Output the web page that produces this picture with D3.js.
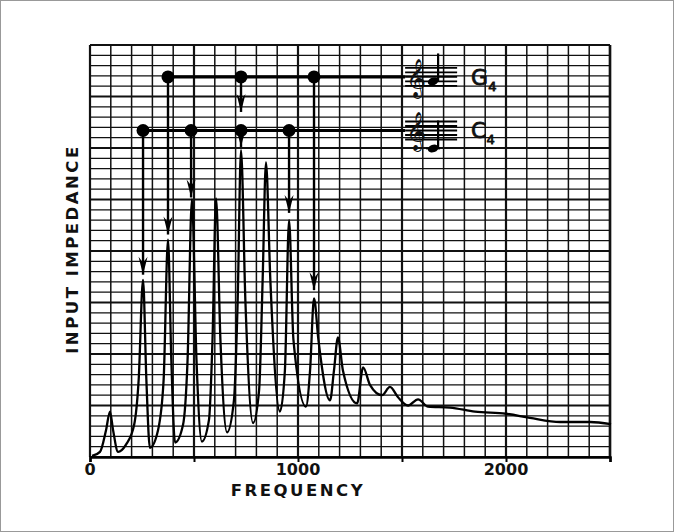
<!DOCTYPE html>
<html>
<head>
<meta charset="utf-8">
<script src="https://cdn.jsdelivr.net/npm/d3@7"></script>
<style>
  body { margin: 0; background: #fff; }
  svg { display: block; }
  text { font-family: "DejaVu Sans", sans-serif; fill: #111; }
</style>
</head>
<body>
<svg id="chart" width="674" height="532"></svg>
<script>
// impedance curve (Hz, grid units 0..40)
var freqs = [10, 48, 77, 96, 111, 135, 173, 212, 234, 255, 271, 288, 327, 354, 375, 391, 409,
  447, 469, 490, 512, 538, 572, 589, 606, 627, 659, 692, 710, 726, 747, 784, 813, 830, 846, 867,
  913, 937, 957, 978, 1038, 1058, 1077, 1098, 1154, 1173, 1192, 1216, 1284, 1313, 1346, 1404,
  1442, 1481, 1529, 1577, 1625, 1731, 1851, 2000, 2115, 2260, 2404, 2505];
var impedance = [0.1, 0.5, 2.6, 4.4, 2.6, 0.5, 1.2, 3.1, 7.5, 17.2, 7.5, 0.9, 2.6, 7.5, 21.1, 9.4, 1.4,
  3.1, 9.4, 25, 9.4, 1.5, 3.6, 11.4, 25.1, 11.4, 2.4, 5.5, 15.2, 29.8, 15.2, 3.3, 6.5, 17.2, 28.6, 17.2,
  4.4, 8.4, 23, 11.4, 4.9, 8.4, 15.4, 11.4, 5.5, 8.4, 11.6, 8.4, 5.2, 8.7, 7, 6,
  6.8, 5.8, 5, 5.6, 4.9, 4.8, 4.4, 4.2, 3.8, 3.4, 3.4, 3.2];

// note lines: dots (Hz) and where each arrow tip lands (grid units)
var g4Level = 36.9;
var g4Dots = [375, 726, 1077];
var g4Tips = [21.6, 33.5, 16.2];
var c4Level = 31.7;
var c4Dots = [255, 486, 726, 957];
var c4Tips = [17.7, 25.2, 30.1, 23.7];
var xTicks = [0, 1000, 2000];

var margin = {top: 45, right: 64, bottom: 75, left: 90};
var width = 674 - margin.left - margin.right;
var height = 532 - margin.top - margin.bottom;

var svg = d3.select("#chart");

// thin frame round the scan
svg.append("rect")
  .attr("x", 0.5).attr("y", 0.5)
  .attr("width", 673).attr("height", 531)
  .attr("fill", "none").attr("stroke", "#999");

var x = d3.scaleLinear().domain([0, 2500]).range([0, width]);
var y = d3.scaleLinear().domain([0, 40]).range([height, 0]);

var g = svg.append("g").attr("transform", "translate(" + margin.left + "," + margin.top + ")");

// graph paper
var grid = g.append("g");
grid.selectAll(".hl").data(d3.range(0, 41))
  .enter().append("line")
  .attr("x1", 0).attr("x2", width)
  .attr("y1", d => y(d)).attr("y2", d => y(d))
  .attr("stroke", "#111")
  .attr("stroke-width", d => d % 5 == 0 ? 2 : 1.2);
grid.selectAll(".vl").data(d3.range(0, 2501, 100))
  .enter().append("line")
  .attr("y1", 0).attr("y2", height)
  .attr("x1", d => x(d)).attr("x2", d => x(d))
  .attr("stroke", "#111")
  .attr("stroke-width", d => d % 500 == 0 ? 2.2 : 1.5);
g.append("line").attr("x1", width).attr("x2", width).attr("y1", 0).attr("y2", height)
  .attr("stroke", "#111").attr("stroke-width", 2.5);

// x axis
var xAxis = d3.axisBottom(x).tickValues(d3.range(0, 2501, 500)).tickSize(5).tickFormat("");
g.append("g")
  .attr("transform", "translate(0," + height + ")")
  .call(xAxis)
  .call(a => a.select(".domain").attr("stroke-width", 2.5))
  .call(a => a.selectAll(".tick line").attr("stroke-width", 2));

g.selectAll(".xlab").data(xTicks)
  .enter().append("text")
  .attr("x", d => x(d))
  .attr("y", height + 18)
  .attr("text-anchor", "middle")
  .attr("font-size", 16)
  .attr("font-weight", "bold")
  .text(d => d);

g.append("text")
  .attr("x", x(1000))
  .attr("y", height + 39)
  .attr("text-anchor", "middle")
  .attr("font-size", 16.5)
  .attr("font-weight", "bold")
  .attr("letter-spacing", 2.5)
  .text("FREQUENCY");

g.append("text")
  .attr("transform", "translate(-12," + (height / 2 - 2) + ") rotate(-90)")
  .attr("text-anchor", "middle")
  .attr("font-size", 16.5)
  .attr("font-weight", "bold")
  .attr("letter-spacing", 2.5)
  .text("INPUT IMPEDANCE");

// impedance curve
var points = freqs.map((f, i) => [f, impedance[i]]);
var line = d3.line()
  .x(d => x(d[0]))
  .y(d => y(d[1]))
  .curve(d3.curveMonotoneX);
g.append("path")
  .datum(points)
  .attr("d", line)
  .attr("fill", "none")
  .attr("stroke", "#000")
  .attr("stroke-width", 2.3)
  .attr("stroke-linejoin", "round");

// staves sit at the right end of each note line
var staffStart = 1515, staffEnd = 1765;

function noteRow(level, dots, tips, label, noteOffset, ledger) {
  var row = g.append("g");
  row.append("line")
    .attr("x1", x(d3.min(dots))).attr("x2", x(staffStart))
    .attr("y1", y(level)).attr("y2", y(level))
    .attr("stroke", "#000").attr("stroke-width", 3);

  // drop lines + arrowheads
  dots.forEach(function(d, i) {
    row.append("line")
      .attr("x1", x(d)).attr("x2", x(d))
      .attr("y1", y(level)).attr("y2", y(tips[i]))
      .attr("stroke", "#000").attr("stroke-width", 2.4);
    var tx = x(d), ty = y(tips[i]);
    row.append("path")
      .attr("d", "M" + tx + "," + ty + "L" + (tx - 4.5) + "," + (ty - 18) +
        "L" + tx + "," + (ty - 12) + "L" + (tx + 4.5) + "," + (ty - 18) + "Z")
      .attr("fill", "#000");
  });

  row.selectAll("circle").data(dots)
    .enter().append("circle")
    .attr("cx", d => x(d)).attr("cy", y(level))
    .attr("r", 6.5).attr("fill", "#000");

  // little staff with clef and note
  var cy = y(level);
  row.selectAll(".st").data(d3.range(-2, 3))
    .enter().append("line")
    .attr("x1", x(staffStart)).attr("x2", x(staffEnd))
    .attr("y1", k => cy + k * 4.5).attr("y2", k => cy + k * 4.5)
    .attr("stroke", "#000").attr("stroke-width", 1.8);
  row.append("text")
    .attr("x", x(staffStart) + 1).attr("y", cy + 12)
    .attr("font-size", 34)
    .text("\u{1D11E}");
  var nx = x(staffStart) + 28, ny = cy + noteOffset;
  if (ledger) {
    row.append("line").attr("x1", nx - 7).attr("x2", nx + 7)
      .attr("y1", ny).attr("y2", ny).attr("stroke", "#000").attr("stroke-width", 1.8);
  }
  row.append("ellipse")
    .attr("cx", nx).attr("cy", ny).attr("rx", 5.5).attr("ry", 3.8)
    .attr("transform", "rotate(-20," + nx + "," + ny + ")")
    .attr("fill", "#000");
  row.append("line")
    .attr("x1", nx + 5).attr("x2", nx + 5)
    .attr("y1", ny).attr("y2", ny - 28)
    .attr("stroke", "#000").attr("stroke-width", 2.2);
  var t = row.append("text")
    .attr("x", x(staffEnd) + 14).attr("y", cy + 8)
    .attr("font-size", 22)
    .attr("stroke", "#111").attr("stroke-width", 0.8);
  t.append("tspan").text(label);
  t.append("tspan").attr("font-size", 13).attr("dy", 6).text("4");
}

noteRow(g4Level, g4Dots, g4Tips, "G", 4.5, false);
noteRow(c4Level, c4Dots, c4Tips, "C", 18, true);
</script>
</body>
</html>
